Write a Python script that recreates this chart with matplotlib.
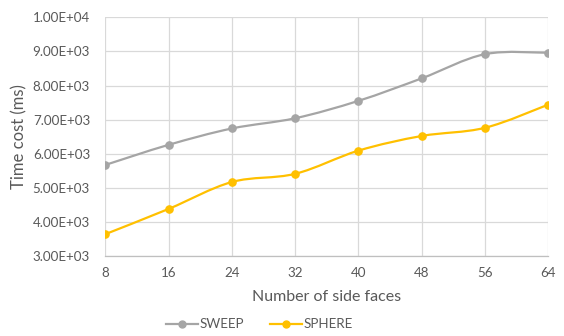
import numpy as np
import matplotlib.pyplot as plt
from matplotlib.path import Path
from matplotlib.patches import PathPatch
from matplotlib.lines import Line2D

plt.rcParams['font.family'] = ['Lato', 'DejaVu Sans']

# timing results (ms) per number of side faces
faces = [8, 16, 24, 32, 40, 48, 56, 64]
sweep = [5670, 6260, 6740, 7040, 7550, 8210, 8920, 8960]
sphere = [3640, 4380, 5170, 5410, 6090, 6520, 6760, 7440]

text_col = '#595959'
grid_col = '#D9D9D9'
sweep_col = '#A5A5A5'
sphere_col = '#FFC000'


def smooth_path(x, y, tension=1/6):
    # cubic bezier through every point, catmull-rom style control points
    x = np.asarray(x, float)
    y = np.asarray(y, float)
    verts = [(x[0], y[0])]
    codes = [Path.MOVETO]
    n = len(x)
    for i in range(n - 1):
        i0 = max(i - 1, 0)
        i3 = min(i + 2, n - 1)
        c1 = (x[i] + (x[i + 1] - x[i0]) * tension, y[i] + (y[i + 1] - y[i0]) * tension)
        c2 = (x[i + 1] - (x[i3] - x[i]) * tension, y[i + 1] - (y[i3] - y[i]) * tension)
        verts += [c1, c2, (x[i + 1], y[i + 1])]
        codes += [Path.CURVE4] * 3
    return Path(verts, codes)


fig = plt.figure(figsize=(5.64, 3.36), dpi=100)
ax = fig.add_axes([0.1867, 0.2381, 0.7855, 0.7104])

for vals, col in [(sweep, sweep_col), (sphere, sphere_col)]:
    ax.add_patch(PathPatch(smooth_path(faces, vals), fill=False, edgecolor=col,
                           lw=1.6, zorder=3, capstyle='round'))
    ax.plot(faces, vals, ls='none', marker='o', ms=5.2, color=col, zorder=4)

ax.set_xlim(8, 64)
ax.set_ylim(3000, 10000)
ax.set_xticks(faces)
ax.set_yticks(np.arange(3000, 10001, 1000))
ax.set_yticklabels(['%.2fE+%02d' % (v / 10 ** int(np.log10(v)), int(np.log10(v)))
                    for v in np.arange(3000, 10001, 1000)])
ax.grid(True, color=grid_col, lw=0.9)
ax.set_axisbelow(True)
for s in ['top', 'right', 'left']:
    ax.spines[s].set_visible(False)
ax.spines['bottom'].set_color('#BFBFBF')
ax.spines['bottom'].set_linewidth(0.9)
ax.tick_params(length=0, colors=text_col, labelsize=9.6)
ax.tick_params(axis='y', pad=11)
ax.tick_params(axis='x', pad=8)

ax.set_xlabel('Number of side faces', color=text_col, fontsize=11.5, labelpad=8)
ax.set_ylabel('Time cost (ms)', color=text_col, fontsize=12, labelpad=4)

handles = [Line2D([], [], color=sweep_col, lw=1.6, marker='o', ms=5),
           Line2D([], [], color=sphere_col, lw=1.6, marker='o', ms=5)]
fig.legend(handles, ['SWEEP', 'SPHERE'], loc='center', bbox_to_anchor=(0.46, 0.035),
           ncol=2, frameon=False, fontsize=9.6, labelcolor=text_col,
           handlelength=2.4, handletextpad=0.1, columnspacing=2.0)

fig.savefig('out.png', dpi=100)
